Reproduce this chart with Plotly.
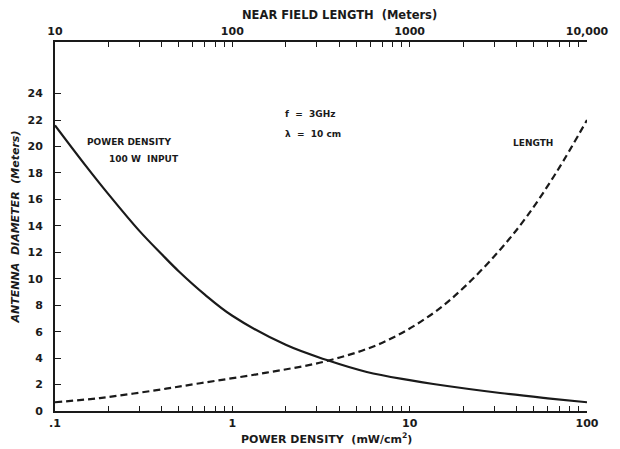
import plotly.graph_objects as go

# Power density curve (bottom axis, mW/cm^2) vs antenna diameter (m)
pd_values = [0.1, 0.15, 0.2, 0.3, 0.4, 0.5, 0.7, 1.0, 2.0, 3.41, 5.73, 10, 13.6, 32.4, 60, 100]
pd_diameter = [21.6, 18.5, 16.4, 13.6, 11.85, 10.55, 8.8, 7.2, 5.0, 3.85, 2.95, 2.33, 2.04, 1.36, 0.96, 0.66]

# Near field length curve (top axis, meters) vs antenna diameter (m)
len_values = [10, 17.9, 34.3, 65.8, 156, 341, 711, 1360, 2099, 3237, 4573, 6757, 10000]
len_diameter = [0.66, 0.98, 1.5, 2.1, 2.9, 3.78, 5.2, 7.4, 9.55, 12.2, 14.7, 18.1, 22.0]

bottom_ticks = [0.1, 1, 10, 100]
bottom_ticktext = [".1", "1", "10", "100"]
top_ticks = [10, 100, 1000, 10000]
top_ticktext = ["10", "100", "1000", "10,000"]
y_ticks = [0, 2, 4, 6, 8, 10, 12, 14, 16, 18, 20, 22, 24]

INK = "#1a1a1a"
FONT = "DejaVu Sans"


def minor_vals(majors):
    vals = []
    for m in majors[:-1]:
        for k in range(2, 10):
            vals.append(m * k)
    return vals


fig = go.Figure()
fig.add_trace(go.Scatter(
    x=pd_values, y=pd_diameter, mode="lines",
    line=dict(color=INK, width=2.2, shape="spline", smoothing=1.0),
    xaxis="x", yaxis="y", showlegend=False, hoverinfo="skip"))
fig.add_trace(go.Scatter(
    x=len_values, y=len_diameter, mode="lines",
    line=dict(color=INK, width=2.2, dash="7px,4px", shape="spline", smoothing=1.0),
    xaxis="x2", yaxis="y", showlegend=False, hoverinfo="skip"))

axis_font = dict(family=FONT, size=11, color=INK, weight="bold")

common_x = dict(
    type="log", ticks="inside", ticklen=5, tickwidth=1.3, tickcolor=INK,
    showline=True, linewidth=2, linecolor=INK, showgrid=False, zeroline=False,
    tickfont=axis_font, ticklabelstandoff=1,
)

fig.update_layout(
    width=620, height=449,
    margin=dict(l=55, r=33, t=42, b=38),
    paper_bgcolor="white", plot_bgcolor="white",
    font=dict(family=FONT, color=INK),
    xaxis=dict(
        range=[-1, 2], tickvals=bottom_ticks, ticktext=bottom_ticktext,
        minor=dict(tickvals=minor_vals(bottom_ticks), ticks="inside", ticklen=5,
                   tickwidth=1.2, tickcolor=INK, showgrid=False),
        **common_x,
    ),
    xaxis2=dict(
        range=[1, 4], tickvals=top_ticks, ticktext=top_ticktext,
        overlaying="x", side="top", anchor="y",
        minor=dict(tickvals=minor_vals(top_ticks), ticks="inside", ticklen=5,
                   tickwidth=1.2, tickcolor=INK, showgrid=False),
        **common_x,
    ),
    yaxis=dict(
        range=[0, 27.9], tickvals=y_ticks,
        ticks="inside", ticklen=6, tickwidth=1.3, tickcolor=INK,
        showline=True, linewidth=2, linecolor=INK, showgrid=False, zeroline=False,
        tickfont=axis_font, ticklabelstandoff=8,
        title=dict(text="<i><b>ANTENNA  DIAMETER  (Meters)</b></i>",
                   font=dict(family=FONT, size=11, color=INK), standoff=6),
    ),
)

# text placed by pixel position (x_px, y_px, text, size, anchor)
labels = [
    (339, 15, "NEAR FIELD LENGTH  (Meters)", 11.5, "center"),
    (326, 438, "POWER DENSITY  (mW/cm<sup>2</sup>)", 11, "center"),
    (85, 142, "POWER DENSITY", 9, "left"),
    (107, 159, "100 W  INPUT", 9, "left"),
    (283, 114, "f  =  3GHz", 9, "left"),
    (283, 134, "λ  =  10 cm", 9, "left"),
    (511, 143, "LENGTH", 9, "left"),
]
pw = 620 - 55 - 33
ph = 449 - 42 - 38
for px, py, txt, size, anchor in labels:
    fig.add_annotation(
        text=txt, x=(px - 55) / pw, y=1 - (py - 42) / ph,
        xref="paper", yref="paper", showarrow=False,
        xanchor=anchor, yanchor="middle",
        font=dict(family=FONT, size=size, color=INK, weight="bold"))

fig.write_html("out.html")
